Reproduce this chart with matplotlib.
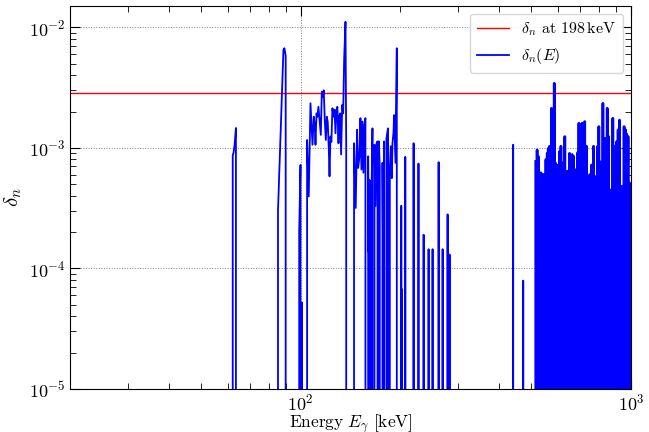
import numpy as np
import matplotlib
matplotlib.use('Agg')
import matplotlib.pyplot as plt

# delta_n at 198 keV (red reference line)
delta_ref = 2.85e-3

# sparse part of delta_n(E), zeros are where the curve drops off the log axis
energy_sparse = [
    61.9, 62.2, 62.6, 63.0, 63.6, 64.2,
    85.0, 85.3, 88.6, 89.2, 90.0, 91.0,
    98.4, 98.9, 99.8, 100.2, 100.7, 101.2,
    104.3, 104.5, 105.7, 107.0, 108.5, 109.5, 110.3, 110.8, 111.6, 112.3,
    113.1, 114.2, 115.0, 115.8, 116.6, 117.4, 118.2, 119.1, 119.9, 120.7,
    121.6, 122.2, 123.0, 123.8, 124.7, 125.6, 126.5, 127.4, 128.3, 129.1,
    130.1, 130.7, 131.6, 132.5, 133.5, 134.4, 135.3, 136.6, 137.3, 137.8,
    144.8, 145.0, 146.7, 148.1, 149.2, 150.6, 151.6, 152.7, 153.8, 154.8,
    155.9, 157.0, 158.1, 160.0, 160.7, 161.5, 162.2, 163.0, 164.1, 164.9,
    166.1, 167.2, 168.4, 169.6, 170.8, 171.6, 172.4, 173.5, 174.8, 176.8,
    178.1, 178.9, 180.6, 181.8, 183.1, 183.9, 184.8, 186.1, 187.4, 188.7,
    189.6, 190.9, 191.8, 193.6, 195.4, 197.2,
    201.2, 201.6, 202.1, 202.6, 203.0, 207.3, 208.0, 219.7, 220.4,
    227.3, 228.0, 235.6, 236.3, 243.9, 244.6, 250.8, 251.5, 261.6, 262.3,
    269.0, 269.7, 278.5, 279.2, 282.4, 283.1,
    439.5, 440.0, 441.0, 471.5, 472.0, 473.0,
]
delta_sparse = [
    0, 8.6e-4, 9.2e-4, 1.05e-3, 1.46e-3, 0,
    0, 3.0e-4, 6.5e-3, 6.7e-3, 5.8e-3, 0,
    0, 2.0e-4, 7.2e-4, 0, 5.2e-5, 0,
    0, 1.16e-3, 3.95e-4, 2.34e-3, 1.06e-3, 1.81e-3, 1.5e-3, 1.06e-3, 1.93e-3, 1.81e-3,
    2.19e-3, 1.6e-3, 1.28e-3, 2.92e-3, 2.65e-3, 3.0e-3, 1.7e-3, 1.16e-3, 1.81e-3, 1.64e-3,
    9.6e-4, 5.8e-4, 1.24e-3, 1.12e-3, 2.13e-3, 1.81e-3, 2.07e-3, 1.32e-3, 2.07e-3, 2.19e-3,
    1.09e-3, 1.81e-3, 1.93e-3, 8.8e-4, 2.27e-3, 1.93e-3, 5.3e-3, 1.11e-2, 1.0e-3, 0,
    0, 1.09e-3, 3.17e-4, 1.41e-3, 6.8e-4, 8.5e-4, 1.76e-3, 6.6e-4, 1.65e-3, 6.2e-4,
    1.55e-3, 1.76e-3, 0, 8.5e-4, 1.36e-4, 5.4e-4, 0, 1.36e-4, 6.0e-4, 1.45e-3,
    0, 1.06e-3, 3.3e-4, 1.09e-3, 1.13e-3, 0, 1.13e-3, 7.0e-4, 0, 7.5e-4,
    3.0e-5, 1.13e-3, 0, 1.2e-3, 1.37e-3, 1.45e-3, 0, 6.8e-4, 1.03e-3, 5.6e-4,
    1.09e-3, 1.33e-3, 1.87e-3, 7.5e-4, 6.7e-3, 0,
    0, 3.3e-4, 0, 6.7e-5, 0, 8.4e-4, 0, 1.09e-3, 0,
    7.4e-4, 0, 1.9e-4, 0, 1.44e-4, 0, 1.44e-4, 0, 7.6e-4, 0,
    1.44e-4, 0, 2.8e-4, 0, 1.3e-4, 0,
    0, 1.06e-3, 0, 0, 7.9e-5, 0,
]

# dense part above ~500 keV: every sample spikes up from zero
energy_dense = [
    515, 520, 524, 529, 534, 540, 546, 549, 553, 558, 562, 567, 571, 575,
    580, 586, 591, 597, 602, 608, 614, 619, 625, 631, 637, 641, 646, 652,
    658, 664, 671, 677, 681, 690, 696, 706, 712, 719, 725, 734, 742, 751,
    760, 771, 778, 785, 793, 800, 807, 815, 823, 830, 838, 848, 856, 866,
    874, 882, 890, 899, 907, 915, 924, 933, 944, 954, 964, 972, 981, 993,
]
delta_dense = [
    7.7e-4, 9.6e-4, 8.5e-4, 6.2e-4, 6.2e-4, 6.0e-4, 6.0e-4, 1.3e-4, 8.0e-4, 9.0e-4,
    9.9e-4, 1.03e-3, 1.74e-4, 2.13e-3, 2.5e-4, 3.43e-3, 7.5e-4, 7.2e-4, 5.8e-4, 9.3e-4,
    1.03e-3, 7.5e-4, 2.0e-4, 1.24e-3, 6.2e-4, 6.4e-4, 0, 9.0e-4, 6.4e-4, 8.8e-4,
    8.5e-4, 6.6e-4, 8.1e-5, 9.1e-4, 1.6e-3, 1.55e-3, 1.6e-3, 4.8e-4, 1.65e-3, 1.03e-3,
    2.46e-4, 6.0e-4, 7.2e-4, 1.03e-3, 5.8e-4, 2.9e-4, 1.03e-3, 1.5e-3, 0, 7.7e-4,
    2.34e-3, 7.7e-4, 1.2e-3, 2.13e-3, 1.24e-3, 3.95e-4, 4.5e-4, 1.76e-3, 1.03e-3, 7.7e-4,
    1.13e-3, 1.41e-3, 1.7e-3, 4.8e-4, 4.8e-4, 1.5e-3, 1.41e-3, 1.3e-3, 1.24e-3, 5.1e-4,
]

plt.rcParams['font.family'] = 'serif'
plt.rcParams['font.serif'] = ['cmr10', 'DejaVu Serif']
plt.rcParams['mathtext.fontset'] = 'cm'
plt.rcParams['axes.formatter.use_mathtext'] = True

# drop to zero after each dense sample
e_dense = np.repeat(energy_dense, 2)
d_dense = np.column_stack([delta_dense, np.zeros(len(delta_dense))]).ravel()

fig = plt.figure(figsize=(6.49, 4.32), dpi=100)
ax = fig.add_axes([0.108, 0.1, 0.864, 0.886])

ax.axhline(delta_ref, color='red', lw=1.0, label=r'$\delta_n$ at $198\,\mathrm{keV}$')
ax.plot(energy_sparse, delta_sparse, color='blue', lw=1.3, label=r'$\delta_n(E)$')
# dense samples, drawn a bit thicker so the band looks solid like the original
ax.plot(e_dense, d_dense, color='blue', lw=1.9)

ax.set_xscale('log')
ax.set_yscale('log')
ax.set_xlim(20, 1000)
ax.set_ylim(1e-5, 1.5e-2)

ax.set_xlabel(r'$\mathrm{Energy}\ E_\gamma\ [\mathrm{keV}]$', fontsize=12.5)
ax.xaxis.set_label_coords(0.5, -0.062)
ax.set_ylabel(r'$\delta_n$', fontsize=15, labelpad=4)

ax.tick_params(which='both', direction='in', top=True, right=True, labelsize=13)
ax.tick_params(which='major', length=7, width=0.8, pad=3)
ax.tick_params(which='minor', length=4, width=0.6)
ax.grid(True, which='major', linestyle=':', color='gray', lw=0.7)

ax.legend(loc='upper right', fontsize=11.5, framealpha=0.9, edgecolor='lightgray')

fig.savefig('out.png', dpi=100)
